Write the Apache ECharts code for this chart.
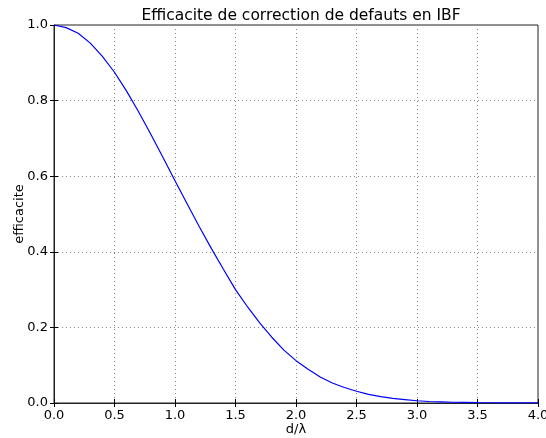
<!DOCTYPE html>
<html><head><meta charset="utf-8">
<script src="https://cdn.jsdelivr.net/npm/echarts@6/dist/echarts.min.js"></script>
<style>html,body{margin:0;padding:0;background:#fff}#c{width:546px;height:438px}</style>
</head><body><div id="c"></div>
<script>
const dValues = [0.0,0.1,0.2,0.3,0.4,0.5,0.6,0.7,0.8,0.9,1.0,1.1,1.2,1.3,1.4,1.5,1.6,1.7,1.8,1.9,2.0,2.1,2.2,2.3,2.4,2.5,2.6,2.7,2.8,2.9,3.0,3.1,3.2,3.3,3.4,3.5,3.6,3.7,3.8,3.9,4.0];
const efficacite = [1.0,0.993,0.978,0.952,0.917,0.875,0.825,0.770,0.711,0.650,0.588,0.527,0.467,0.409,0.354,0.300,0.254,0.212,0.174,0.140,0.112,0.089,0.069,0.053,0.041,0.031,0.023,0.017,0.012,0.009,0.006,0.004,0.003,0.002,0.0015,0.001,0.0007,0.0004,0.0003,0.0002,0.0001];
const titleText = 'Efficacite de correction de defauts en IBF';
const xName = 'd/λ';
const yName = 'efficacite';

const font = 'DejaVu Sans';
const chart = echarts.init(document.getElementById('c'), null, {renderer:'canvas'});
const gridStyle = {show:true, lineStyle:{color:'#888', type:[1,3], width:1}};
const tick = {show:true, inside:true, length:4, lineStyle:{color:'#000'}};
chart.setOption({
  animation:false,
  backgroundColor:'#fff',
  title:{text:titleText, left:296, top:3, textAlign:'center',
    textStyle:{fontFamily:font, fontSize:15.5, fontWeight:'normal', color:'#000'}},
  grid:{left:54, right:8, top:25, bottom:35, containLabel:false, outerBoundsMode:'none',
    show:true, borderColor:'#222', borderWidth:1},
  xAxis:[{type:'value', min:0, max:4, interval:0.5,
    name:xName, nameLocation:'middle', nameGap:20, nameMoveOverlap:false,
    nameTextStyle:{fontFamily:font, fontSize:13, color:'#000'},
    axisLine:{show:true, lineStyle:{color:'#222'}}, axisTick:tick,
    axisLabel:{fontFamily:font, fontSize:13, color:'#000', margin:6, formatter:v=>v.toFixed(1)},
    splitLine:gridStyle},
    {type:'value', position:'top', min:0, max:4, interval:0.5,
    axisLine:{show:false}, axisTick:tick, axisLabel:{show:false}, splitLine:{show:false}}],
  yAxis:[{type:'value', min:0, max:1, interval:0.2,
    name:yName, nameLocation:'middle', nameGap:28, nameRotate:90, nameMoveOverlap:false,
    nameTextStyle:{fontFamily:font, fontSize:13, color:'#000'},
    axisLine:{show:true, lineStyle:{color:'#222'}}, axisTick:tick,
    axisLabel:{fontFamily:font, fontSize:13, color:'#000', margin:6, formatter:v=>v.toFixed(1)},
    splitLine:gridStyle},
    {type:'value', position:'right', min:0, max:1, interval:0.2,
    axisLine:{show:false}, axisTick:tick, axisLabel:{show:false}, splitLine:{show:false}}],
  series:[{type:'line', xAxisIndex:0, yAxisIndex:0, showSymbol:false, smooth:false,
    lineStyle:{color:'#0000ff', width:1.2}, data:dValues.map((d,i)=>[d, efficacite[i]])}]
});
</script></body></html>
